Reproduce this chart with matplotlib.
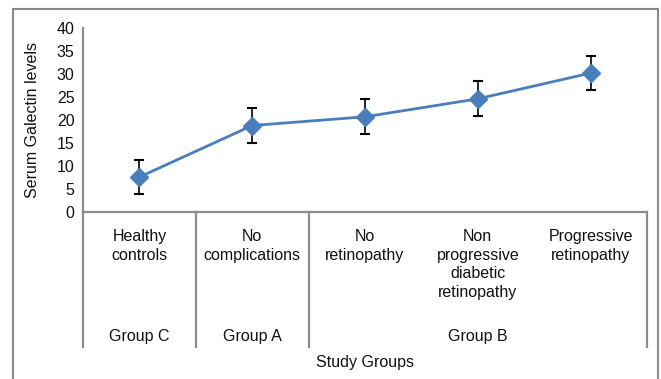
import matplotlib.pyplot as plt
from matplotlib.patches import Rectangle
import matplotlib.transforms as mtransforms

plt.rcParams['font.family'] = ['Liberation Sans', 'DejaVu Sans']

# Serum galectin per study group (mean and SD)
categories = ["Healthy\ncontrols", "No\ncomplications", "No\nretinopathy",
              "Non\nprogressive\ndiabetic\nretinopathy", "Progressive\nretinopathy"]
groups = ["Group C", "Group A", "Group B"]
group_spans = [(0, 0), (1, 1), (2, 4)]
means = [7.6, 18.8, 20.7, 24.6, 30.2]
errors = [3.7, 3.7, 3.8, 3.8, 3.7]
yticks = [0, 5, 10, 15, 20, 25, 30, 35, 40]

W, H = 661, 379
fs = 11.5
fig = plt.figure(figsize=(W / 100, H / 100), dpi=100)
ax = fig.add_axes([83 / W, (H - 212) / H, (647 - 83) / W, (212 - 28) / H])

x = list(range(len(categories)))
ax.errorbar(x, means, yerr=errors, color='#4a7ebb', lw=2.0, marker='D', ms=9,
            mfc='#4a7ebb', mec='#4a7ebb', ecolor='black', elinewidth=1.2,
            capsize=3.5, capthick=1.5, zorder=3)

ax.set_xlim(-0.5, len(categories) - 0.5)
ax.set_ylim(0, 40)
ax.set_yticks(yticks)
ax.tick_params(axis='y', length=0, labelsize=fs, pad=6, labelcolor='#111111')
ax.set_xticks([])
for s in ['top', 'right']:
    ax.spines[s].set_visible(False)
for s in ['left', 'bottom']:
    ax.spines[s].set_color('#8c8c8c')
    ax.spines[s].set_linewidth(1.6)

# Two-level category axis below the plot
trans = mtransforms.blended_transform_factory(ax.transData, ax.transAxes)
sep_bottom = -(347 - 212) / 184
seps = [group_spans[0][0] - 0.5] + [g[1] + 0.5 for g in group_spans]
for sx in seps:
    ax.plot([sx, sx], [0, sep_bottom], transform=trans, color='#8c8c8c',
            lw=1.6, clip_on=False)

for i, lab in enumerate(categories):
    ax.text(i, -(229 - 212) / 184, lab, transform=trans, ha='center', va='top',
            fontsize=fs, linespacing=1.3, color='#111111')

for g, (a, b) in zip(groups, group_spans):
    ax.text((a + b) / 2, -(336 - 212) / 184, g, transform=trans, ha='center',
            va='center', fontsize=fs, color='#111111')

fig.text(365 / W, (H - 362) / H, "Study Groups", ha='center', va='center',
         fontsize=fs, color='#111111')
fig.text(33 / W, (H - 120) / H, "Serum Galectin levels", rotation=90,
         ha='center', va='center', fontsize=fs, color='#111111')

# Chart-area frame
fig.add_artist(Rectangle((13 / W, -0.1), (658 - 13) / W, 0.1 + (H - 9) / H,
                         transform=fig.transFigure, fill=False,
                         edgecolor='#8a8a8a', lw=1.5))

fig.savefig('out.png', dpi=100)
